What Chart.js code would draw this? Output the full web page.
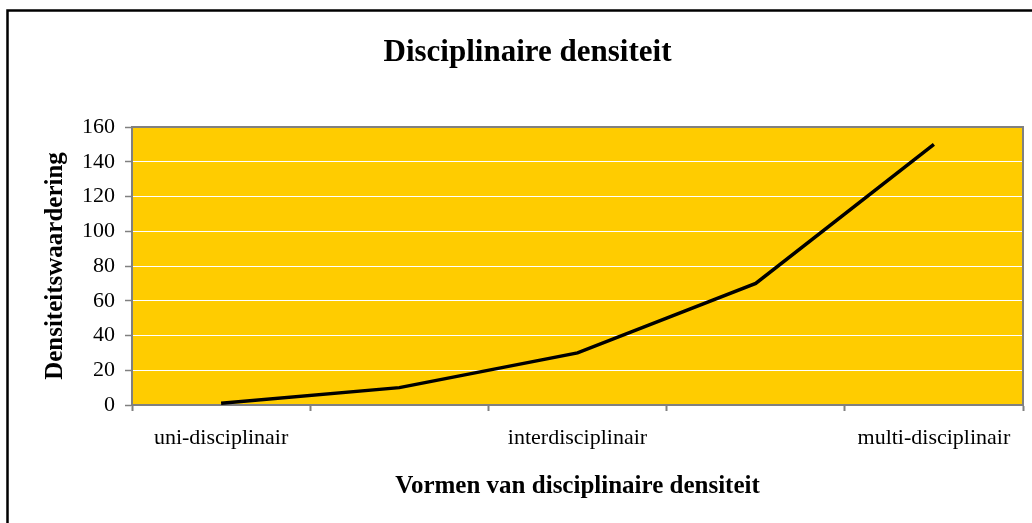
<!DOCTYPE html>
<html>
<head>
<meta charset="utf-8">
<script src="https://cdn.jsdelivr.net/npm/chart.js@4"></script>
<style>
  html, body { margin: 0; padding: 0; background: #fff; }
  #chart { display: block; }
</style>
</head>
<body>
<canvas id="chart" width="1032" height="523"></canvas>
<script>
// data
var categories = ['uni-disciplinair', '', 'interdisciplinair', '', 'multi-disciplinair'];
var densiteit = [1, 10, 30, 70, 150];
var yMin = 0, yMax = 160, yStep = 20;

var serif = "'Liberation Serif', 'Times New Roman', serif";
Chart.defaults.font.family = serif;
Chart.defaults.color = '#000';

// white page, black frame, yellow plot area, grey plot border
var plotArea = {
    id: 'plotArea',
    beforeDraw: function(chart) {
        var ctx = chart.ctx, a = chart.chartArea;
        ctx.save();
        ctx.fillStyle = '#fff';
        ctx.fillRect(0, 0, chart.width, chart.height);
        ctx.strokeStyle = '#000';
        ctx.lineWidth = 2.5;
        ctx.strokeRect(7.5, 10.5, chart.width + 40, chart.height + 40);
        ctx.fillStyle = '#FFCC00';
        ctx.fillRect(a.left, a.top, a.right - a.left, a.bottom - a.top);
        ctx.restore();
    },
    beforeDatasetsDraw: function(chart) {
        var ctx = chart.ctx, a = chart.chartArea;
        ctx.save();
        ctx.strokeStyle = '#808080';
        ctx.lineWidth = 2;
        ctx.beginPath();
        ctx.moveTo(a.left, a.top);
        ctx.lineTo(a.right, a.top);
        ctx.lineTo(a.right, a.bottom);
        ctx.stroke();
        ctx.restore();
    }
};

var ctx = document.getElementById('chart').getContext('2d');
var chart = new Chart(ctx, {
    type: 'line',
    data: {
        labels: categories,
        datasets: [{
            label: 'Densiteit',
            data: densiteit,
            borderColor: '#000',
            borderWidth: 3.5,
            pointRadius: 0,
            tension: 0,
            fill: false
        }]
    },
    options: {
        responsive: false,
        animation: false,
        layout: { padding: { left: 32, right: 9, top: 0, bottom: 0 } },
        plugins: {
            legend: { display: false },
            tooltip: { enabled: false },
            title: {
                display: true,
                text: 'Disciplinaire densiteit',
                color: '#000',
                font: { family: serif, size: 31, weight: 'bold' },
                padding: { top: 34, bottom: 55.8 }
            }
        },
        scales: {
            x: {
                type: 'category',
                offset: true,
                grid: {
                    offset: true,
                    drawOnChartArea: false,
                    tickLength: 6,
                    tickColor: '#808080',
                    tickWidth: 2
                },
                border: { color: '#808080', width: 2 },
                ticks: {
                    autoSkip: false,
                    maxRotation: 0,
                    padding: 14,
                    color: '#000',
                    font: { family: serif, size: 22 }
                },
                title: {
                    display: true,
                    text: 'Vormen van disciplinaire densiteit',
                    color: '#000',
                    font: { family: serif, size: 25, weight: 'bold' },
                    padding: { top: 0, bottom: 21 }
                },
                afterFit: function(scale) { scale.height = 118; }
            },
            y: {
                min: yMin,
                max: yMax,
                grid: {
                    color: '#fff',
                    lineWidth: 1,
                    tickLength: 7,
                    tickColor: '#808080',
                    tickWidth: 1.5
                },
                border: { color: '#808080', width: 2 },
                ticks: {
                    stepSize: yStep,
                    padding: 10,
                    color: '#000',
                    font: { family: serif, size: 22 }
                },
                title: {
                    display: true,
                    text: 'Densiteitswaardering',
                    color: '#000',
                    font: { family: serif, size: 25, weight: 'bold' },
                    padding: { top: 9, bottom: 0 }
                },
                afterFit: function(scale) { scale.width = 100; }
            }
        }
    },
    plugins: [plotArea]
});
</script>
</body>
</html>
